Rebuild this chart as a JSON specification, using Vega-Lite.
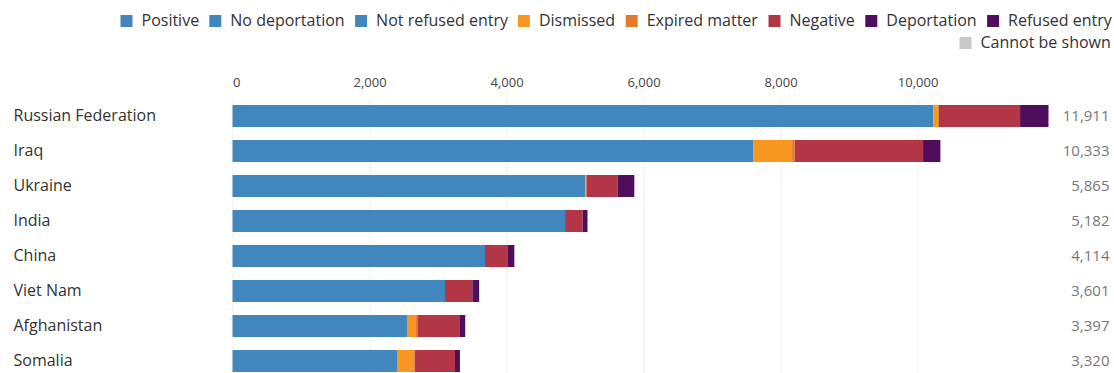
{
  "$schema": "https://vega.github.io/schema/vega-lite/v6.json",
  "autosize": "none",
  "padding": {"left": 232.5, "top": 98.5, "right": 65.5, "bottom": 0},
  "width": 816,
  "height": 274.5,
  "background": "white",
  "config": {
    "view": {"stroke": null},
    "font": "Open Sans",
    "axis": {"labelFont": "Open Sans", "domain": false, "ticks": false, "tickSize": 0, "title": null},
    "legend": {"labelFont": "Open Sans", "labelFontSize": 16, "labelColor": "#333333", "symbolType": "square", "symbolSize": 144, "labelOffset": 7, "columnPadding": 7.8, "padding": 0, "direction": "horizontal", "orient": "none", "title": null, "symbolStrokeWidth": 0, "labelLimit": 300}
  },
  "data": {
    "values": [
      {"country": "Russian Federation", "category": "Positive", "value": 10231},
      {"country": "Russian Federation", "category": "Dismissed", "value": 64},
      {"country": "Russian Federation", "category": "Expired matter", "value": 15},
      {"country": "Russian Federation", "category": "Negative", "value": 1186},
      {"country": "Russian Federation", "category": "Deportation", "value": 415},
      {"country": "Iraq", "category": "Positive", "value": 7599},
      {"country": "Iraq", "category": "Dismissed", "value": 569},
      {"country": "Iraq", "category": "Expired matter", "value": 39},
      {"country": "Iraq", "category": "Negative", "value": 1873},
      {"country": "Iraq", "category": "Deportation", "value": 253},
      {"country": "Ukraine", "category": "Positive", "value": 5146},
      {"country": "Ukraine", "category": "Dismissed", "value": 10},
      {"country": "Ukraine", "category": "Expired matter", "value": 15},
      {"country": "Ukraine", "category": "Negative", "value": 452},
      {"country": "Ukraine", "category": "Deportation", "value": 242},
      {"country": "India", "category": "Positive", "value": 4854},
      {"country": "India", "category": "Negative", "value": 258},
      {"country": "India", "category": "Deportation", "value": 70},
      {"country": "China", "category": "Positive", "value": 3686},
      {"country": "China", "category": "Negative", "value": 326},
      {"country": "China", "category": "Deportation", "value": 102},
      {"country": "Viet Nam", "category": "Positive", "value": 3102},
      {"country": "Viet Nam", "category": "Negative", "value": 399},
      {"country": "Viet Nam", "category": "Deportation", "value": 100},
      {"country": "Afghanistan", "category": "Positive", "value": 2547},
      {"country": "Afghanistan", "category": "Dismissed", "value": 132},
      {"country": "Afghanistan", "category": "Expired matter", "value": 19},
      {"country": "Afghanistan", "category": "Negative", "value": 623},
      {"country": "Afghanistan", "category": "Deportation", "value": 76},
      {"country": "Somalia", "category": "Positive", "value": 2401},
      {"country": "Somalia", "category": "Dismissed", "value": 250},
      {"country": "Somalia", "category": "Expired matter", "value": 9},
      {"country": "Somalia", "category": "Negative", "value": 588},
      {"country": "Somalia", "category": "Deportation", "value": 72}
    ]
  },
  "encoding": {
    "y": {
      "field": "country",
      "type": "nominal",
      "sort": ["Russian Federation", "Iraq", "Ukraine", "India", "China", "Viet Nam", "Afghanistan", "Somalia"],
      "scale": {"range": [0, 280], "paddingInner": 0.3714, "paddingOuter": 0.1857},
      "axis": {"orient": "left", "labelAlign": "left", "labelPadding": 219.5, "labelFontSize": 16, "labelColor": "#333333", "labelBaseline": "middle", "grid": false, "labelLimit": 300}
    }
  },
  "layer": [
    {
      "transform": [{"calculate": "indexof(['Positive','Dismissed','Expired matter','Negative','Deportation'], datum.category)", "as": "stackOrder"}],
      "mark": {"type": "bar"},
      "encoding": {
        "x": {
          "field": "value",
          "type": "quantitative",
          "stack": "zero",
          "scale": {"domain": [0, 11911], "nice": false},
          "axis": {"orient": "top", "format": ",.0f", "values": [0, 2000, 4000, 6000, 8000, 10000], "labelFontSize": 13, "labelColor": "#444444", "labelPadding": 9, "grid": true, "gridColor": "#efefef", "gridWidth": 1}
        },
        "order": {"field": "stackOrder", "type": "quantitative", "sort": "ascending"},
        "color": {
          "field": "category",
          "type": "nominal",
          "scale": {
            "domain": ["Positive", "No deportation", "Not refused entry", "Dismissed", "Expired matter", "Negative", "Deportation", "Refused entry"],
            "range": ["#4187bd", "#4187bd", "#4187bd", "#f8971f", "#e57a2c", "#b33646", "#4f0e5b", "#4f0e5b"]
          },
          "legend": {"legendX": -114, "legendY": -85.5}
        }
      }
    },
    {
      "data": {"values": [{"country": "Russian Federation", "category": "Cannot be shown", "value": 0}]},
      "mark": {"type": "bar"},
      "encoding": {
        "x": {"field": "value", "type": "quantitative", "axis": {"orient": "top", "format": ",.0f", "values": [0, 2000, 4000, 6000, 8000, 10000], "labelFontSize": 13, "labelColor": "#444444", "labelPadding": 9, "grid": true, "gridColor": "#efefef", "gridWidth": 1}},
        "fill": {
          "field": "category",
          "type": "nominal",
          "scale": {"domain": ["Cannot be shown"], "range": ["#c8c8c8"]},
          "legend": {"legendX": 725, "legendY": -63.5}
        }
      }
    },
    {
      "transform": [{"aggregate": [{"op": "sum", "field": "value", "as": "total"}], "groupby": ["country"]}],
      "mark": {"type": "text", "align": "right", "baseline": "middle", "dx": 61, "font": "Open Sans", "fontSize": 15, "color": "#777777"},
      "encoding": {
        "x": {"datum": 11911, "type": "quantitative", "axis": {"orient": "top", "format": ",.0f", "values": [0, 2000, 4000, 6000, 8000, 10000], "labelFontSize": 13, "labelColor": "#444444", "labelPadding": 9, "grid": true, "gridColor": "#efefef", "gridWidth": 1}},
        "text": {"field": "total", "type": "quantitative", "format": ","}
      }
    }
  ]
}
